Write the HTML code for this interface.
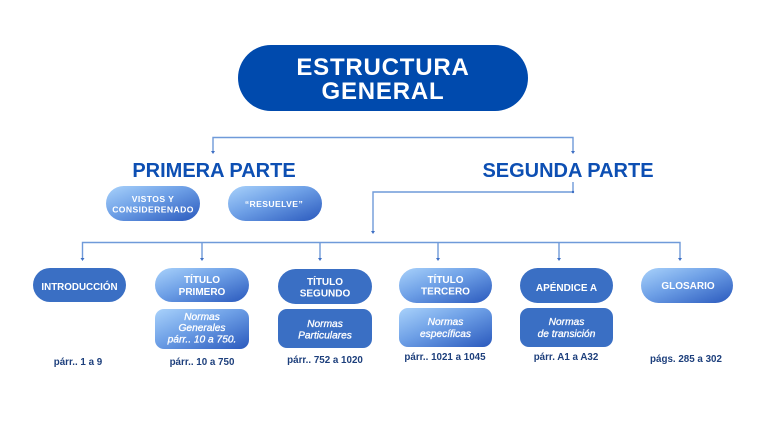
<!DOCTYPE html>
<html>
<head>
<meta charset="utf-8">
<style>
  html,body{margin:0;padding:0;background:#fff;}
  body{width:768px;height:432px;overflow:hidden;}
  svg{display:block;}
  text{font-family:"Liberation Sans",Arial,sans-serif;}
  .it{font-size:10.2px;font-style:italic;fill:#fff;stroke:#fff;stroke-width:0.3px;}
  .lb{font-size:9.8px;font-weight:bold;fill:#1d3f7c;}
</style>
</head>
<body>
<svg width="768" height="432" viewBox="0 0 768 432" xmlns="http://www.w3.org/2000/svg">
  <defs>
    <linearGradient id="g" x1="0" y1="0" x2="1" y2="1">
      <stop offset="0" stop-color="#a9d2fb"/>
      <stop offset="0.45" stop-color="#6d9fe6"/>
      <stop offset="1" stop-color="#2a59bd"/>
    </linearGradient>
  </defs>

  <!-- connectors -->
  <g fill="none" stroke="#6f9ad9" stroke-width="1.4">
    <path d="M213 152 V137.5 H573 V152"/>
    <path d="M573 182 V192 H373 V232"/>
    <path d="M82.5 259 V242.5 H680 V259"/>
    <path d="M202 242.5 V259"/>
    <path d="M320 242.5 V259"/>
    <path d="M438 242.5 V259"/>
    <path d="M559 242.5 V259"/>
  </g>
  <g fill="#3d6fc4">
    <path d="M211 151 h4 l-2 3 z"/>
    <path d="M571 151 h4 l-2 3 z"/>
    <circle cx="573" cy="192" r="1.2"/>
    <path d="M371 231 h4 l-2 3 z"/>
    <path d="M80.5 258 h4 l-2 3 z"/>
    <path d="M200 258 h4 l-2 3 z"/>
    <path d="M318 258 h4 l-2 3 z"/>
    <path d="M436 258 h4 l-2 3 z"/>
    <path d="M557 258 h4 l-2 3 z"/>
    <path d="M678 258 h4 l-2 3 z"/>
  </g>

  <!-- title pill -->
  <rect x="238" y="45" width="290" height="66" rx="33" fill="#004aad"/>
  <text x="383" y="75" text-anchor="middle" font-size="24" font-weight="bold" fill="#fff" letter-spacing="0.8">ESTRUCTURA</text>
  <text x="383" y="99" text-anchor="middle" font-size="24" font-weight="bold" fill="#fff" letter-spacing="0.8">GENERAL</text>

  <!-- parts -->
  <text x="214" y="177" text-anchor="middle" font-size="20" font-weight="bold" fill="#0d4fb3">PRIMERA PARTE</text>
  <text x="568" y="177" text-anchor="middle" font-size="20" font-weight="bold" fill="#0d4fb3">SEGUNDA PARTE</text>

  <!-- primera parte pills -->
  <rect x="106" y="186" width="94" height="35" rx="17.5" fill="url(#g)"/>
  <text x="153" y="202" text-anchor="middle" font-size="8.6" font-weight="bold" fill="#fff" letter-spacing="0.4">VISTOS Y</text>
  <text x="153" y="212.5" text-anchor="middle" font-size="8.6" font-weight="bold" fill="#fff" letter-spacing="0.4">CONSIDERENADO</text>

  <rect x="228" y="186" width="94" height="35" rx="17.5" fill="url(#g)"/>
  <text x="274" y="207" text-anchor="middle" font-size="8.6" font-weight="bold" fill="#fff" letter-spacing="0.4">“RESUELVE”</text>

  <!-- INTRODUCCIÓN -->
  <rect x="33" y="268" width="93" height="34" rx="17" fill="#3a6fc4"/>
  <text x="79.5" y="290" text-anchor="middle" font-size="9.8" font-weight="bold" fill="#fff">INTRODUCCIÓN</text>
  <text x="78" y="365" text-anchor="middle" class="lb">párr..  1 a 9</text>

  <!-- TÍTULO PRIMERO -->
  <rect x="155" y="268" width="94" height="34" rx="17" fill="url(#g)"/>
  <text x="202" y="283" text-anchor="middle" font-size="10" font-weight="bold" fill="#fff">TÍTULO</text>
  <text x="202" y="295" text-anchor="middle" font-size="10" font-weight="bold" fill="#fff">PRIMERO</text>
  <rect x="155" y="309" width="94" height="40" rx="9" fill="url(#g)"/>
  <text x="202" y="320" text-anchor="middle" class="it">Normas</text>
  <text x="202" y="331" text-anchor="middle" class="it">Generales</text>
  <text x="202" y="342.5" text-anchor="middle" class="it">párr.. 10 a 750.</text>
  <text x="202" y="365" text-anchor="middle" class="lb">párr.. 10 a  750</text>

  <!-- TÍTULO SEGUNDO -->
  <rect x="278" y="269" width="94" height="35" rx="17.5" fill="#3a6fc4"/>
  <text x="325" y="285" text-anchor="middle" font-size="10" font-weight="bold" fill="#fff">TÍTULO</text>
  <text x="325" y="296.5" text-anchor="middle" font-size="10" font-weight="bold" fill="#fff">SEGUNDO</text>
  <rect x="278" y="309" width="94" height="39" rx="9" fill="#3a6fc4"/>
  <text x="325" y="327" text-anchor="middle" class="it">Normas</text>
  <text x="325" y="338.5" text-anchor="middle" class="it">Particulares</text>
  <text x="325" y="363" text-anchor="middle" class="lb">párr.. 752 a 1020</text>

  <!-- TÍTULO TERCERO -->
  <rect x="399" y="268" width="93" height="35" rx="17.5" fill="url(#g)"/>
  <text x="445.5" y="283" text-anchor="middle" font-size="10" font-weight="bold" fill="#fff">TÍTULO</text>
  <text x="445.5" y="294.5" text-anchor="middle" font-size="10" font-weight="bold" fill="#fff">TERCERO</text>
  <rect x="399" y="308" width="93" height="39" rx="9" fill="url(#g)"/>
  <text x="445.5" y="325" text-anchor="middle" class="it">Normas</text>
  <text x="445.5" y="337" text-anchor="middle" class="it">específicas</text>
  <text x="445" y="360" text-anchor="middle" class="lb">párr.. 1021 a 1045</text>

  <!-- APÉNDICE A -->
  <rect x="520" y="268" width="93" height="35" rx="17.5" fill="#3a6fc4"/>
  <text x="566.5" y="291" text-anchor="middle" font-size="10" font-weight="bold" fill="#fff">APÉNDICE A</text>
  <rect x="520" y="308" width="93" height="39" rx="9" fill="#3a6fc4"/>
  <text x="566.5" y="325" text-anchor="middle" class="it">Normas</text>
  <text x="566.5" y="337" text-anchor="middle" class="it">de transición</text>
  <text x="566" y="360" text-anchor="middle" class="lb">párr. A1 a A32</text>

  <!-- GLOSARIO -->
  <rect x="641" y="268" width="92" height="35" rx="17.5" fill="url(#g)"/>
  <text x="688" y="289" text-anchor="middle" font-size="10" font-weight="bold" fill="#fff">GLOSARIO</text>
  <text x="686" y="362" text-anchor="middle" class="lb">págs.  285 a 302</text>
</svg>
</body>
</html>
